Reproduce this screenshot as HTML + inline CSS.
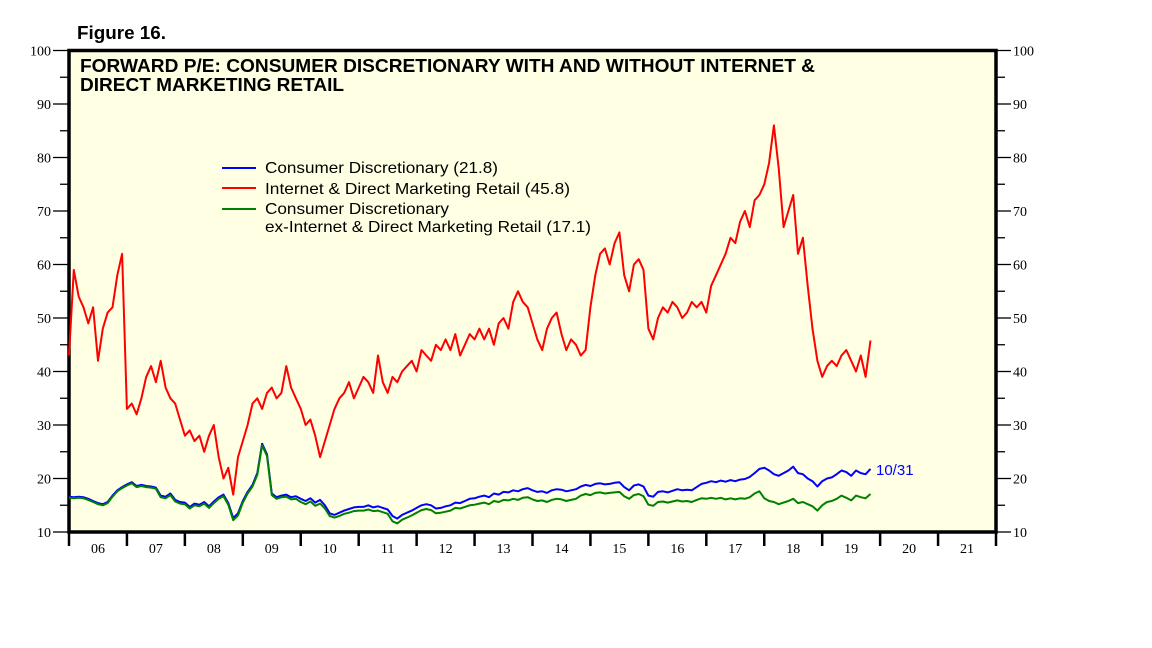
<!DOCTYPE html>
<html><head><meta charset="utf-8"><style>
body{margin:0;background:#fff;}
svg{display:block;}
</style></head><body>
<svg id="chart" width="1152" height="648" viewBox="0 0 1152 648" xmlns="http://www.w3.org/2000/svg">
<rect x="0" y="0" width="1152" height="648" fill="#fff"/>
<text x="77" y="39" font-family="Liberation Sans, sans-serif" font-weight="bold" font-size="18" textLength="89" lengthAdjust="spacingAndGlyphs">Figure 16.</text>
<rect x="69" y="50.5" width="927" height="481.5" fill="#ffffe3" stroke="#000" stroke-width="3.5"/>
<text font-family="Liberation Sans, sans-serif" font-weight="bold" font-size="18" fill="#000">
<tspan x="80" y="72" textLength="735" lengthAdjust="spacingAndGlyphs">FORWARD P/E: CONSUMER DISCRETIONARY WITH AND WITHOUT INTERNET &amp;</tspan>
<tspan x="80" y="91" textLength="264" lengthAdjust="spacingAndGlyphs">DIRECT MARKETING RETAIL</tspan></text>
<g id="axes"></g>
<g id="series"></g>
<g font-family="Liberation Sans, sans-serif" font-size="16" fill="#000">
<line x1="222" y1="168" x2="256" y2="168" stroke="#0000ff" stroke-width="2"/>
<text x="265" y="173" textLength="233" lengthAdjust="spacingAndGlyphs">Consumer Discretionary (21.8)</text>
<line x1="222" y1="188" x2="256" y2="188" stroke="#ff0000" stroke-width="2"/>
<text x="265" y="194" textLength="305" lengthAdjust="spacingAndGlyphs">Internet &amp; Direct Marketing Retail (45.8)</text>
<line x1="222" y1="209" x2="256" y2="209" stroke="#008000" stroke-width="2"/>
<text x="265" y="214" textLength="184" lengthAdjust="spacingAndGlyphs">Consumer Discretionary</text>
<text x="265" y="232" textLength="326" lengthAdjust="spacingAndGlyphs">ex-Internet &amp; Direct Marketing Retail (17.1)</text>
</g>
<text x="876" y="475" font-family="Liberation Sans, sans-serif" font-size="15" fill="#0000ff">10/31</text>
</svg>
<script>
const yTicks = [10,20,30,40,50,60,70,80,90,100];
const yearLabels = ["06","07","08","09","10","11","12","13","14","15","16","17","18","19","20","21"];
const startYear = 2006;
const internet = [
43,59,54,52,49,52,42,48,51,52,58,62,
33,34,32,35,39,41,38,42,37,35,34,31,
28,29,27,28,25,28,30,24,20,22,17,24,
27,30,34,35,33,36,37,35,36,41,37,35,
33,30,31,28,24,27,30,33,35,36,38,35,
37,39,38,36,43,38,36,39,38,40,41,42,
40,44,43,42,45,44,46,44,47,43,45,47,
46,48,46,48,45,49,50,48,53,55,53,52,
49,46,44,48,50,51,47,44,46,45,43,44,
52,58,62,63,60,64,66,58,55,60,61,59,
48,46,50,52,51,53,52,50,51,53,52,53,
51,56,58,60,62,65,64,68,70,67,72,73,
75,79,86,78,67,70,73,62,65,56,48,42,
39,41,42,41,43,44,42,40,43,39,45.8];
const consDisc = [
16.6,16.5,16.6,16.5,16.2,15.8,15.4,15.2,15.6,16.8,17.8,18.4,
18.9,19.3,18.6,18.8,18.6,18.5,18.3,16.8,16.6,17.2,16.0,15.6,
15.5,14.7,15.3,15.1,15.6,14.8,15.7,16.5,17.0,15.4,12.6,13.5,
15.8,17.5,18.8,21,26.5,24.5,17.2,16.5,16.8,17.0,16.5,16.7,
16.2,15.8,16.3,15.5,16.0,15.0,13.5,13.2,13.6,14.0,14.3,14.6,
14.7,14.7,15.0,14.6,14.8,14.5,14.2,13.0,12.5,13.2,13.6,14.0,
14.5,15.0,15.2,15.0,14.4,14.5,14.8,15.0,15.5,15.4,15.8,16.2,
16.3,16.6,16.8,16.5,17.2,17.0,17.5,17.4,17.8,17.6,18.0,18.2,
17.8,17.5,17.6,17.3,17.8,18.0,17.9,17.6,17.8,18.0,18.5,18.8,
18.6,19.0,19.1,18.9,19.0,19.2,19.3,18.4,17.8,18.7,18.9,18.5,
16.8,16.6,17.5,17.6,17.4,17.7,18.0,17.8,17.9,17.8,18.4,19.0,
19.2,19.5,19.3,19.6,19.4,19.7,19.5,19.8,19.9,20.3,21.0,21.8,
22.0,21.5,20.8,20.5,21.0,21.5,22.2,21.0,20.8,20.0,19.5,18.5,
19.5,20.0,20.2,20.8,21.5,21.2,20.5,21.5,21.0,20.8,21.8];
const exInternet = [
16.4,16.3,16.4,16.3,16.0,15.6,15.2,15.0,15.4,16.6,17.6,18.2,
18.7,19.1,18.4,18.6,18.4,18.3,18.1,16.5,16.3,16.9,15.7,15.3,
15.2,14.4,15.0,14.8,15.3,14.5,15.4,16.2,16.7,15.1,12.2,13.1,
15.5,17.2,18.5,20.7,26.2,24.2,16.9,16.2,16.5,16.6,16.1,16.2,
15.6,15.2,15.7,14.9,15.3,14.4,13.0,12.7,13.0,13.4,13.6,13.9,
14.0,14.0,14.2,13.9,14.0,13.7,13.4,12.0,11.6,12.3,12.7,13.1,
13.6,14.1,14.3,14.1,13.5,13.6,13.8,14.0,14.5,14.4,14.7,15.0,
15.1,15.3,15.5,15.2,15.8,15.6,16.0,15.9,16.2,16.0,16.4,16.5,
16.1,15.8,15.9,15.6,16.0,16.2,16.1,15.8,16.0,16.2,16.8,17.1,
16.9,17.3,17.4,17.2,17.3,17.4,17.5,16.7,16.2,16.9,17.1,16.7,
15.1,14.9,15.6,15.7,15.5,15.7,15.9,15.7,15.8,15.6,16.0,16.3,
16.2,16.4,16.2,16.4,16.1,16.3,16.1,16.3,16.2,16.5,17.2,17.6,
16.3,15.8,15.6,15.2,15.5,15.8,16.2,15.4,15.6,15.2,14.8,14.0,
15.0,15.6,15.8,16.2,16.8,16.4,15.9,16.8,16.5,16.3,17.1];

const NS='http://www.w3.org/2000/svg';
const X0=69, X1=996, Y0=532, Y1=50.5, YMIN=10, YMAX=100;
const yearW=(X1-X0)/yearLabels.length;
function xScale(t){return X0+(t-startYear)*yearW;}
function yScale(v){return Y0-(v-YMIN)/(YMAX-YMIN)*(Y0-Y1);}
function mk(tag,attrs,parent){const e=document.createElementNS(NS,tag);for(const k in attrs)e.setAttribute(k,attrs[k]);parent.appendChild(e);return e;}
const axes=document.getElementById('axes');
const serif='Liberation Serif, serif';
yTicks.forEach((v,i)=>{
  const y=yScale(v);
  const l=mk('line',{x1:53,y1:y,x2:X0,y2:y,stroke:'#000','stroke-width':1.3},axes);
  
  
  const r=mk('line',{x1:X1,y1:y,x2:1011,y2:y,stroke:'#000','stroke-width':1.3},axes);
  
  
  const tl=mk('text',{x:51,y:y+5,'text-anchor':'end','font-family':serif,'font-size':14},axes);
  tl.textContent=v;
  
  
  const tr=mk('text',{x:1013,y:y+5,'font-family':serif,'font-size':14},axes);
  tr.textContent=v;
  
  
  if(i<yTicks.length-1){
    const ym=yScale(v+5);
    const ml=mk('line',{x1:60,y1:ym,x2:X0,y2:ym,stroke:'#000','stroke-width':1.3},axes);
    
    
    const mr=mk('line',{x1:X1,y1:ym,x2:1005,y2:ym,stroke:'#000','stroke-width':1.3},axes);
    
    
  }
});
for(let i=0;i<=yearLabels.length;i++){
  const x=xScale(startYear+i);
  const t=mk('line',{x1:x,y1:Y0,x2:x,y2:546,stroke:'#000','stroke-width':2.5},axes);
  
  
  if(i<yearLabels.length){
    const lb=mk('text',{x:x+yearW/2,y:553,'text-anchor':'middle','font-family':serif,'font-size':14},axes);
    lb.textContent=yearLabels[i];
    
    
  }
}
const sg=document.getElementById('series');
function line(arr,color,name){
  const pts=arr.map((v,i)=>xScale(startYear+i/12).toFixed(1)+','+yScale(v).toFixed(1)).join(' ');
  const p=mk('polyline',{points:pts,fill:'none',stroke:color,'stroke-width':2,'stroke-linejoin':'round'},sg);
  
  
}
line(internet,'#ff0000','internet-retail-line');
line(consDisc,'#0000ff','consumer-discretionary-line');
line(exInternet,'#008000','ex-internet-line');
</script>
</body></html>
